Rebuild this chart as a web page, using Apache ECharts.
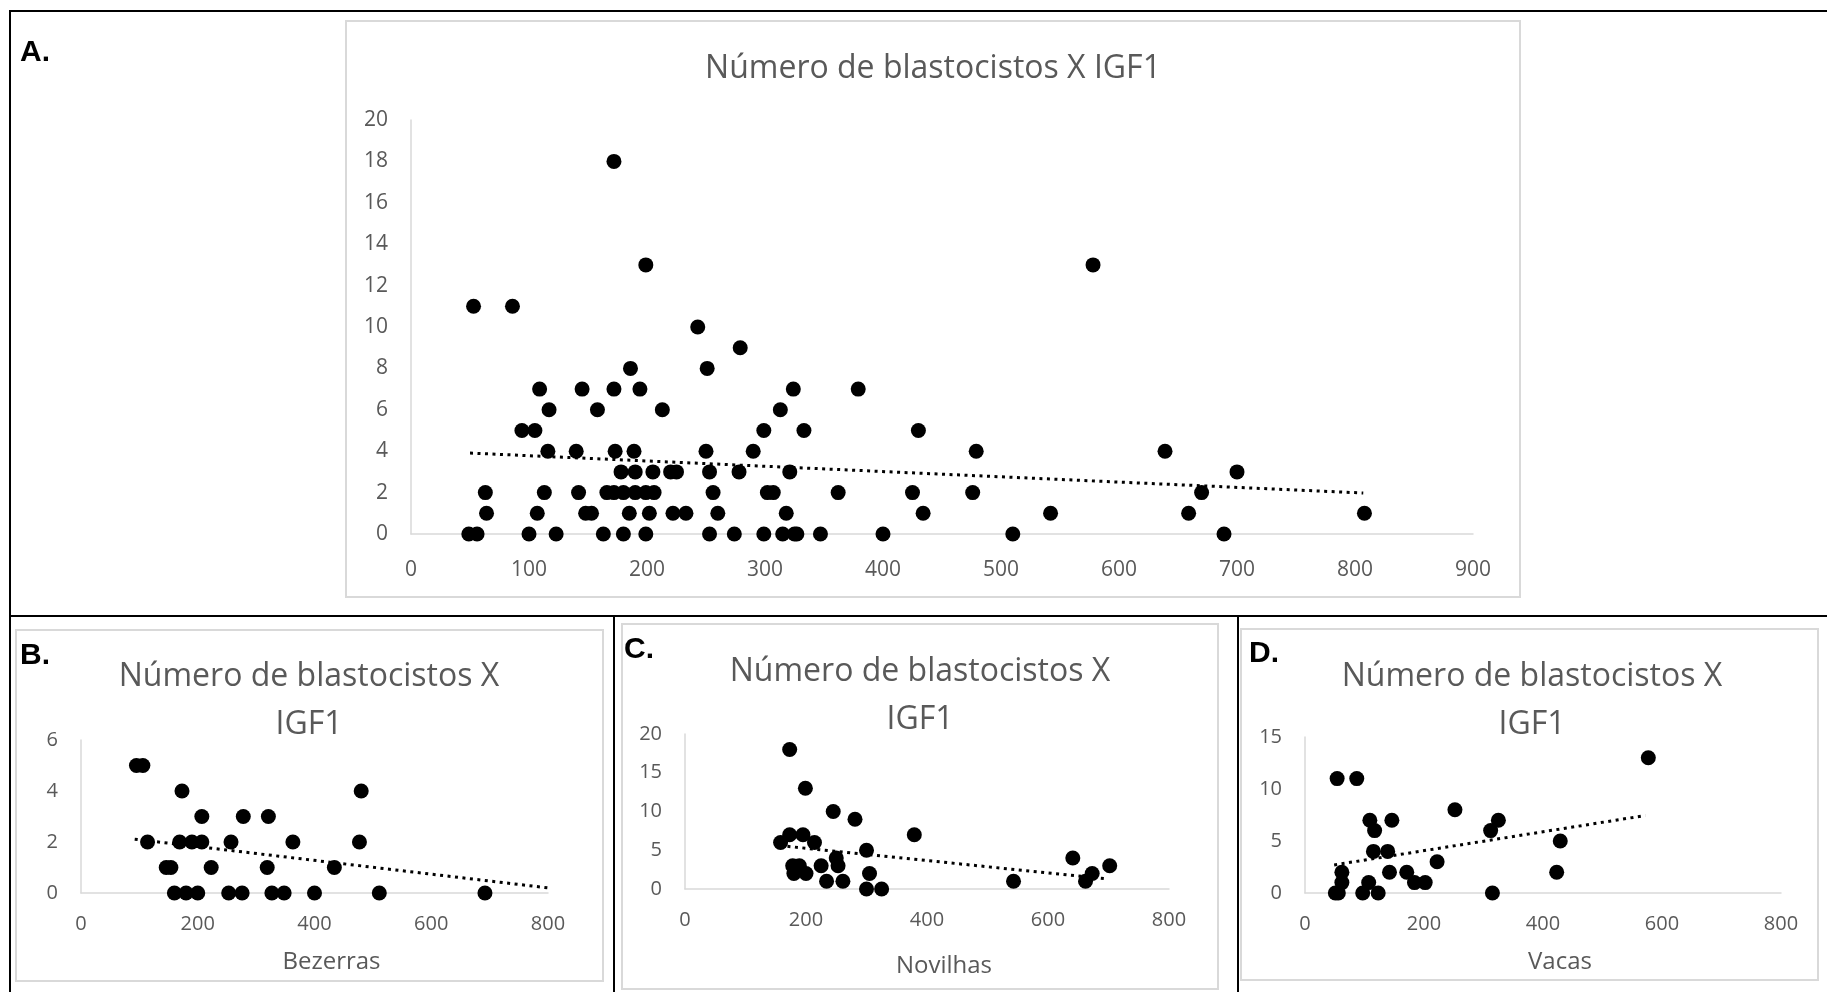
<!DOCTYPE html>
<html>
<head>
<meta charset="utf-8">
<script src="https://cdn.jsdelivr.net/npm/echarts@6/dist/echarts.min.js"></script>
<style>
  html, body { margin: 0; padding: 0; background: #ffffff; }
  #chart { width: 1827px; height: 992px; }
</style>
</head>
<body>
<div id="chart"></div>
<script>
// IGF1 concentration (x) against number of blastocysts (y): all animals and by category.

const tituloGrafico = 'Número de blastocistos X IGF1';
const tituloGrupo = 'Número de blastocistos X\nIGF1';

// [IGF1, blastocistos] — todos os animais
const todosPontos = [
  [172,18],
  [199,13],[578,13],
  [53,11],[86,11],
  [243,10],
  [279,9],
  [186,8],[251,8],
  [109,7],[145,7],[172,7],[194,7],[324,7],[379,7],
  [117,6],[158,6],[213,6],[313,6],
  [94,5],[105,5],[299,5],[333,5],[430,5],
  [116,4],[140,4],[173,4],[189,4],[250,4],[290,4],[479,4],[639,4],
  [178,3],[190,3],[205,3],[220,3],[225,3],[253,3],[278,3],[321,3],[700,3],
  [63,2],[113,2],[142,2],[166,2],[172,2],[180,2],[190,2],[199,2],[206,2],[256,2],[302,2],[307,2],[362,2],[425,2],[476,2],[670,2],
  [64,1],[107,1],[148,1],[153,1],[185,1],[202,1],[222,1],[233,1],[260,1],[318,1],[434,1],[542,1],[659,1],[808,1],
  [49,0],[56,0],[100,0],[123,0],[163,0],[180,0],[199,0],[253,0],[274,0],[299,0],[315,0],[325,0],[327,0],[347,0],[400,0],[510,0],[689,0]
];

// Bezerras
const bezerras = [
  [95,5],[106,5],
  [173,4],[480,4],
  [207,3],[278,3],[321,3],
  [114,2],[169,2],[190,2],[207,2],[257,2],[363,2],[477,2],
  [146,1],[154,1],[223,1],[319,1],[434,1],
  [160,0],[180,0],[200,0],[253,0],[276,0],[327,0],[348,0],[400,0],[511,0],[692,0]
];

// Novilhas
const novilhas = [
  [173,18],[199,13],[245,10],[281,9],
  [173,7],[195,7],[379,7],
  [158,6],[214,6],
  [300,5],
  [250,4],[641,4],
  [178,3],[189,3],[225,3],[253,3],[702,3],
  [180,2],[200,2],[305,2],[673,2],
  [234,1],[261,1],[543,1],[662,1],
  [300,0],[325,0]
];

// Vacas
const vacas = [
  [577,13],
  [54,11],[87,11],
  [252,8],
  [109,7],[146,7],[325,7],
  [117,6],[312,6],
  [429,5],
  [115,4],[139,4],
  [222,3],
  [62,2],[142,2],[171,2],[423,2],
  [62,1],[107,1],[184,1],[202,1],
  [51,0],[56,0],[97,0],[123,0],[315,0]
];

// linear trendlines: [start, end] as [IGF1, blastocistos]
const tendenciaTodos = [[50, 3.91], [807, 1.98]];
const tendenciaBezerras = [[92, 2.11], [800, 0.2]];
const tendenciaNovilhas = [[157, 5.6], [698, 1.3]];
const tendenciaVacas = [[49, 2.7], [572, 7.45]];

// axis ranges: [min, max, interval]
const eixoXTodos = [0, 900, 100];
const eixoYTodos = [0, 20, 2];
const eixoXGrupos = [0, 800, 200];
const eixoYBezerras = [0, 6, 2];
const eixoYNovilhas = [0, 20, 5];
const eixoYVacas = [0, 15, 5];

const rotulos = ['A.', 'B.', 'C.', 'D.'];
const nomesGrupos = ['', 'Bezerras', 'Novilhas', 'Vacas'];

const corTexto = '#595959';
const corEixo = '#d9d9d9';
const fonte = '"Open Sans", "Noto Sans", sans-serif';

const paineis = [
  { dados: todosPontos, tend: tendenciaTodos, x: eixoXTodos, y: eixoYTodos, nome: nomesGrupos[0],
    grid: { left: 411, top: 120, width: 1062, height: 414 }, simbolo: 15, fonteEixo: 21, margemX: 26, gapNome: 55 },
  { dados: bezerras, tend: tendenciaBezerras, x: eixoXGrupos, y: eixoYBezerras, nome: nomesGrupos[1],
    grid: { left: 81, top: 740, width: 467, height: 153 }, simbolo: 15, fonteEixo: 20, margemX: 21, gapNome: 57 },
  { dados: novilhas, tend: tendenciaNovilhas, x: eixoXGrupos, y: eixoYNovilhas, nome: nomesGrupos[2],
    grid: { left: 685, top: 734, width: 484, height: 155 }, simbolo: 15, fonteEixo: 20, margemX: 21, gapNome: 65 },
  { dados: vacas, tend: tendenciaVacas, x: eixoXGrupos, y: eixoYVacas, nome: nomesGrupos[3],
    grid: { left: 1305, top: 737, width: 476, height: 156 }, simbolo: 15, fonteEixo: 20, margemX: 21, gapNome: 57 }
];

const grids = [], xAxes = [], yAxes = [], series = [];
paineis.forEach((p, i) => {
  grids.push(Object.assign({ containLabel: false }, p.grid));
  xAxes.push({
    type: 'value', gridIndex: i, min: p.x[0], max: p.x[1], interval: p.x[2],
    axisLine: { show: true, onZero: false, lineStyle: { color: corEixo, width: 1.5 } },
    axisTick: { show: false }, splitLine: { show: false },
    axisLabel: { color: corTexto, fontSize: p.fonteEixo, fontFamily: fonte, margin: p.margemX },
    name: p.nome, nameLocation: 'middle', nameGap: p.gapNome,
    nameTextStyle: { color: corTexto, fontSize: 24, fontFamily: fonte, padding: [0, 0, 0, 34] }
  });
  yAxes.push({
    type: 'value', gridIndex: i, min: p.y[0], max: p.y[1], interval: p.y[2],
    axisLine: { show: true, lineStyle: { color: corEixo, width: 1.5 } },
    axisTick: { show: false }, splitLine: { show: false },
    axisLabel: { color: corTexto, fontSize: p.fonteEixo, fontFamily: fonte, margin: 23 }
  });
  series.push({
    type: 'scatter', xAxisIndex: i, yAxisIndex: i, data: p.dados,
    symbol: 'circle', symbolSize: p.simbolo, itemStyle: { color: '#000000', opacity: 1 },
    silent: true, z: 2
  });
  series.push({
    type: 'line', xAxisIndex: i, yAxisIndex: i, data: p.tend,
    showSymbol: false, symbol: 'none', silent: true, z: 3, clip: false,
    lineStyle: { color: '#000000', width: 3, type: [3, 4.5] }
  });
});

// chart titles (centred in each chart frame)
const titulos = [
  { x: 933, y: 69, text: tituloGrafico },
  { x: 309, y: 701, text: tituloGrupo },
  { x: 920, y: 696, text: tituloGrupo },
  { x: 1532, y: 701, text: tituloGrupo }
];

const graficos = [
  // outer figure border and panel dividers
  { type: 'rect', shape: { x: 10, y: 11, width: 1830, height: 990 }, style: { fill: 'none', stroke: '#000', lineWidth: 2 }, silent: true },
  { type: 'line', shape: { x1: 10, y1: 616, x2: 1827, y2: 616 }, style: { stroke: '#000', lineWidth: 2 }, silent: true },
  { type: 'line', shape: { x1: 614, y1: 616, x2: 614, y2: 992 }, style: { stroke: '#000', lineWidth: 2 }, silent: true },
  { type: 'line', shape: { x1: 1238, y1: 616, x2: 1238, y2: 992 }, style: { stroke: '#000', lineWidth: 2 }, silent: true },
  // chart area frames
  { type: 'rect', shape: { x: 346, y: 21, width: 1174, height: 576 }, style: { fill: 'none', stroke: corEixo, lineWidth: 2 }, silent: true },
  { type: 'rect', shape: { x: 16, y: 630, width: 587, height: 351 }, style: { fill: 'none', stroke: corEixo, lineWidth: 2 }, silent: true },
  { type: 'rect', shape: { x: 622, y: 624, width: 596, height: 365 }, style: { fill: 'none', stroke: corEixo, lineWidth: 2 }, silent: true },
  { type: 'rect', shape: { x: 1241, y: 629, width: 577, height: 351 }, style: { fill: 'none', stroke: corEixo, lineWidth: 2 }, silent: true }
];

titulos.forEach(t => graficos.push({
  type: 'text', x: t.x, y: t.y, silent: true,
  style: { text: t.text, fill: corTexto, fontSize: 32, fontFamily: fonte, lineHeight: 48, align: 'center', verticalAlign: 'middle' }
}));

// panel letters
const posRotulos = [[20, 53], [20, 656], [624, 650], [1249, 654]];
rotulos.forEach((r, i) => graficos.push({
  type: 'text', x: posRotulos[i][0], y: posRotulos[i][1], silent: true,
  style: { text: r, fill: '#000', fontSize: 30, fontWeight: 'bold', fontFamily: '"Liberation Sans", Arial, sans-serif', align: 'left', verticalAlign: 'middle' }
}));

const chart = echarts.init(document.getElementById('chart'), null, { renderer: 'canvas' });
chart.setOption({
  animation: false,
  backgroundColor: '#ffffff',
  grid: grids,
  xAxis: xAxes,
  yAxis: yAxes,
  series: series,
  graphic: graficos
});
</script>
</body>
</html>
